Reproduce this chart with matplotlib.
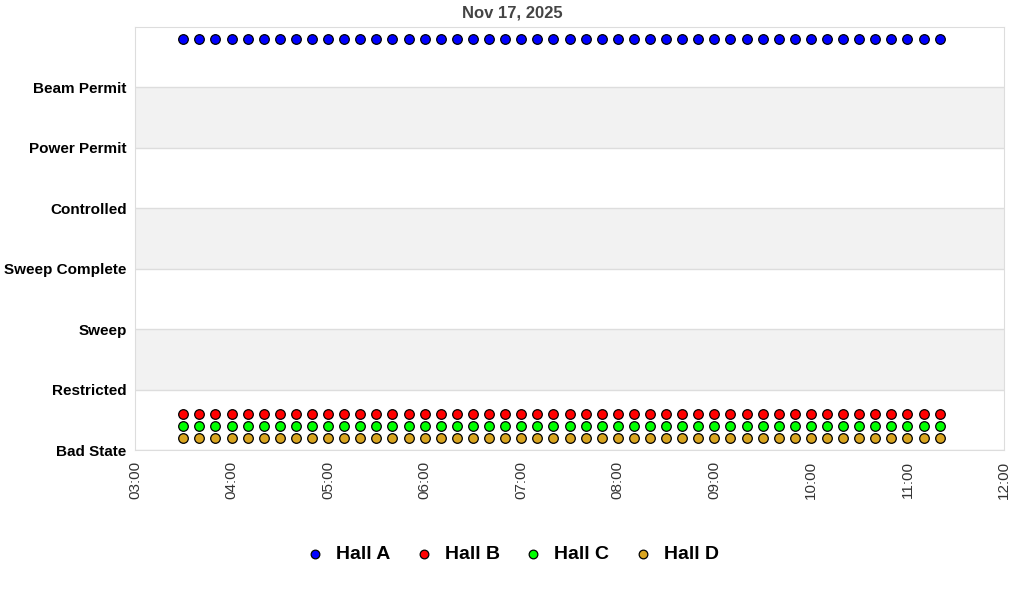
import matplotlib
matplotlib.use("Agg")
import matplotlib.pyplot as plt
import matplotlib.dates as mdates
import pandas as pd

plt.rcParams['font.family'] = ['Liberation Sans', 'DejaVu Sans']

states = ["Bad State", "Restricted", "Sweep", "Sweep Complete",
          "Controlled", "Power Permit", "Beam Permit"]

# sample times, one every 10 minutes
times = pd.date_range("2025-11-17 03:30", "2025-11-17 11:20", freq="10min")
n = len(times)

halls = ["Hall A", "Hall B", "Hall C", "Hall D"]
colors = ["#0000ff", "#ff0000", "#00ff00", "#daa520"]
offsets = [0.8, 0.6, 0.4, 0.2]
hall_a = [6] * n
hall_b = [0] * n
hall_c = [0] * n
hall_d = [0] * n
values = [hall_a, hall_b, hall_c, hall_d]

fig = plt.figure(figsize=(10.24, 6), dpi=100)
ax = fig.add_axes([135 / 1024, 150 / 600, 869 / 1024, 423 / 600])

for i in range(7):
    if i % 2 == 1:
        ax.axhspan(i, i + 1, color="#f2f2f2", zorder=0, lw=0)
    ax.axhline(i, color="#dddddd", lw=1, zorder=1)

for name, col, off, vals in zip(halls, colors, offsets, values):
    ax.scatter(times, [v + off for v in vals], s=48, c=col,
               edgecolors="black", linewidths=0.9, zorder=3, label=name)

ax.set_ylim(0, 7)
ax.set_yticks(range(7))
ax.set_yticklabels(states, fontsize=11, fontweight="bold")
ax.set_xlim(pd.Timestamp("2025-11-17 03:00"), pd.Timestamp("2025-11-17 12:00"))
ax.xaxis.set_major_locator(mdates.HourLocator())
ax.xaxis.set_major_formatter(mdates.DateFormatter("%H:%M"))
plt.setp(ax.get_xticklabels(), rotation=90, fontsize=11, color="#333333")
ax.tick_params(length=0, pad=6)
ax.tick_params(axis="x", pad=8)
for s in ax.spines.values():
    s.set_color("#dddddd")

fig.suptitle("Nov 17, 2025", x=0.5, y=1 - 13 / 600, va="center",
             fontsize=12, fontweight="bold", color="#444444")

leg = fig.legend(loc="center", bbox_to_anchor=(0.5, 46 / 600), ncol=4, frameon=False,
                 prop={"size": 14, "weight": "bold"}, handlelength=1.0,
                 handletextpad=0.6, columnspacing=1.2, markerscale=0.9)

fig.savefig("out.png", dpi=100)
